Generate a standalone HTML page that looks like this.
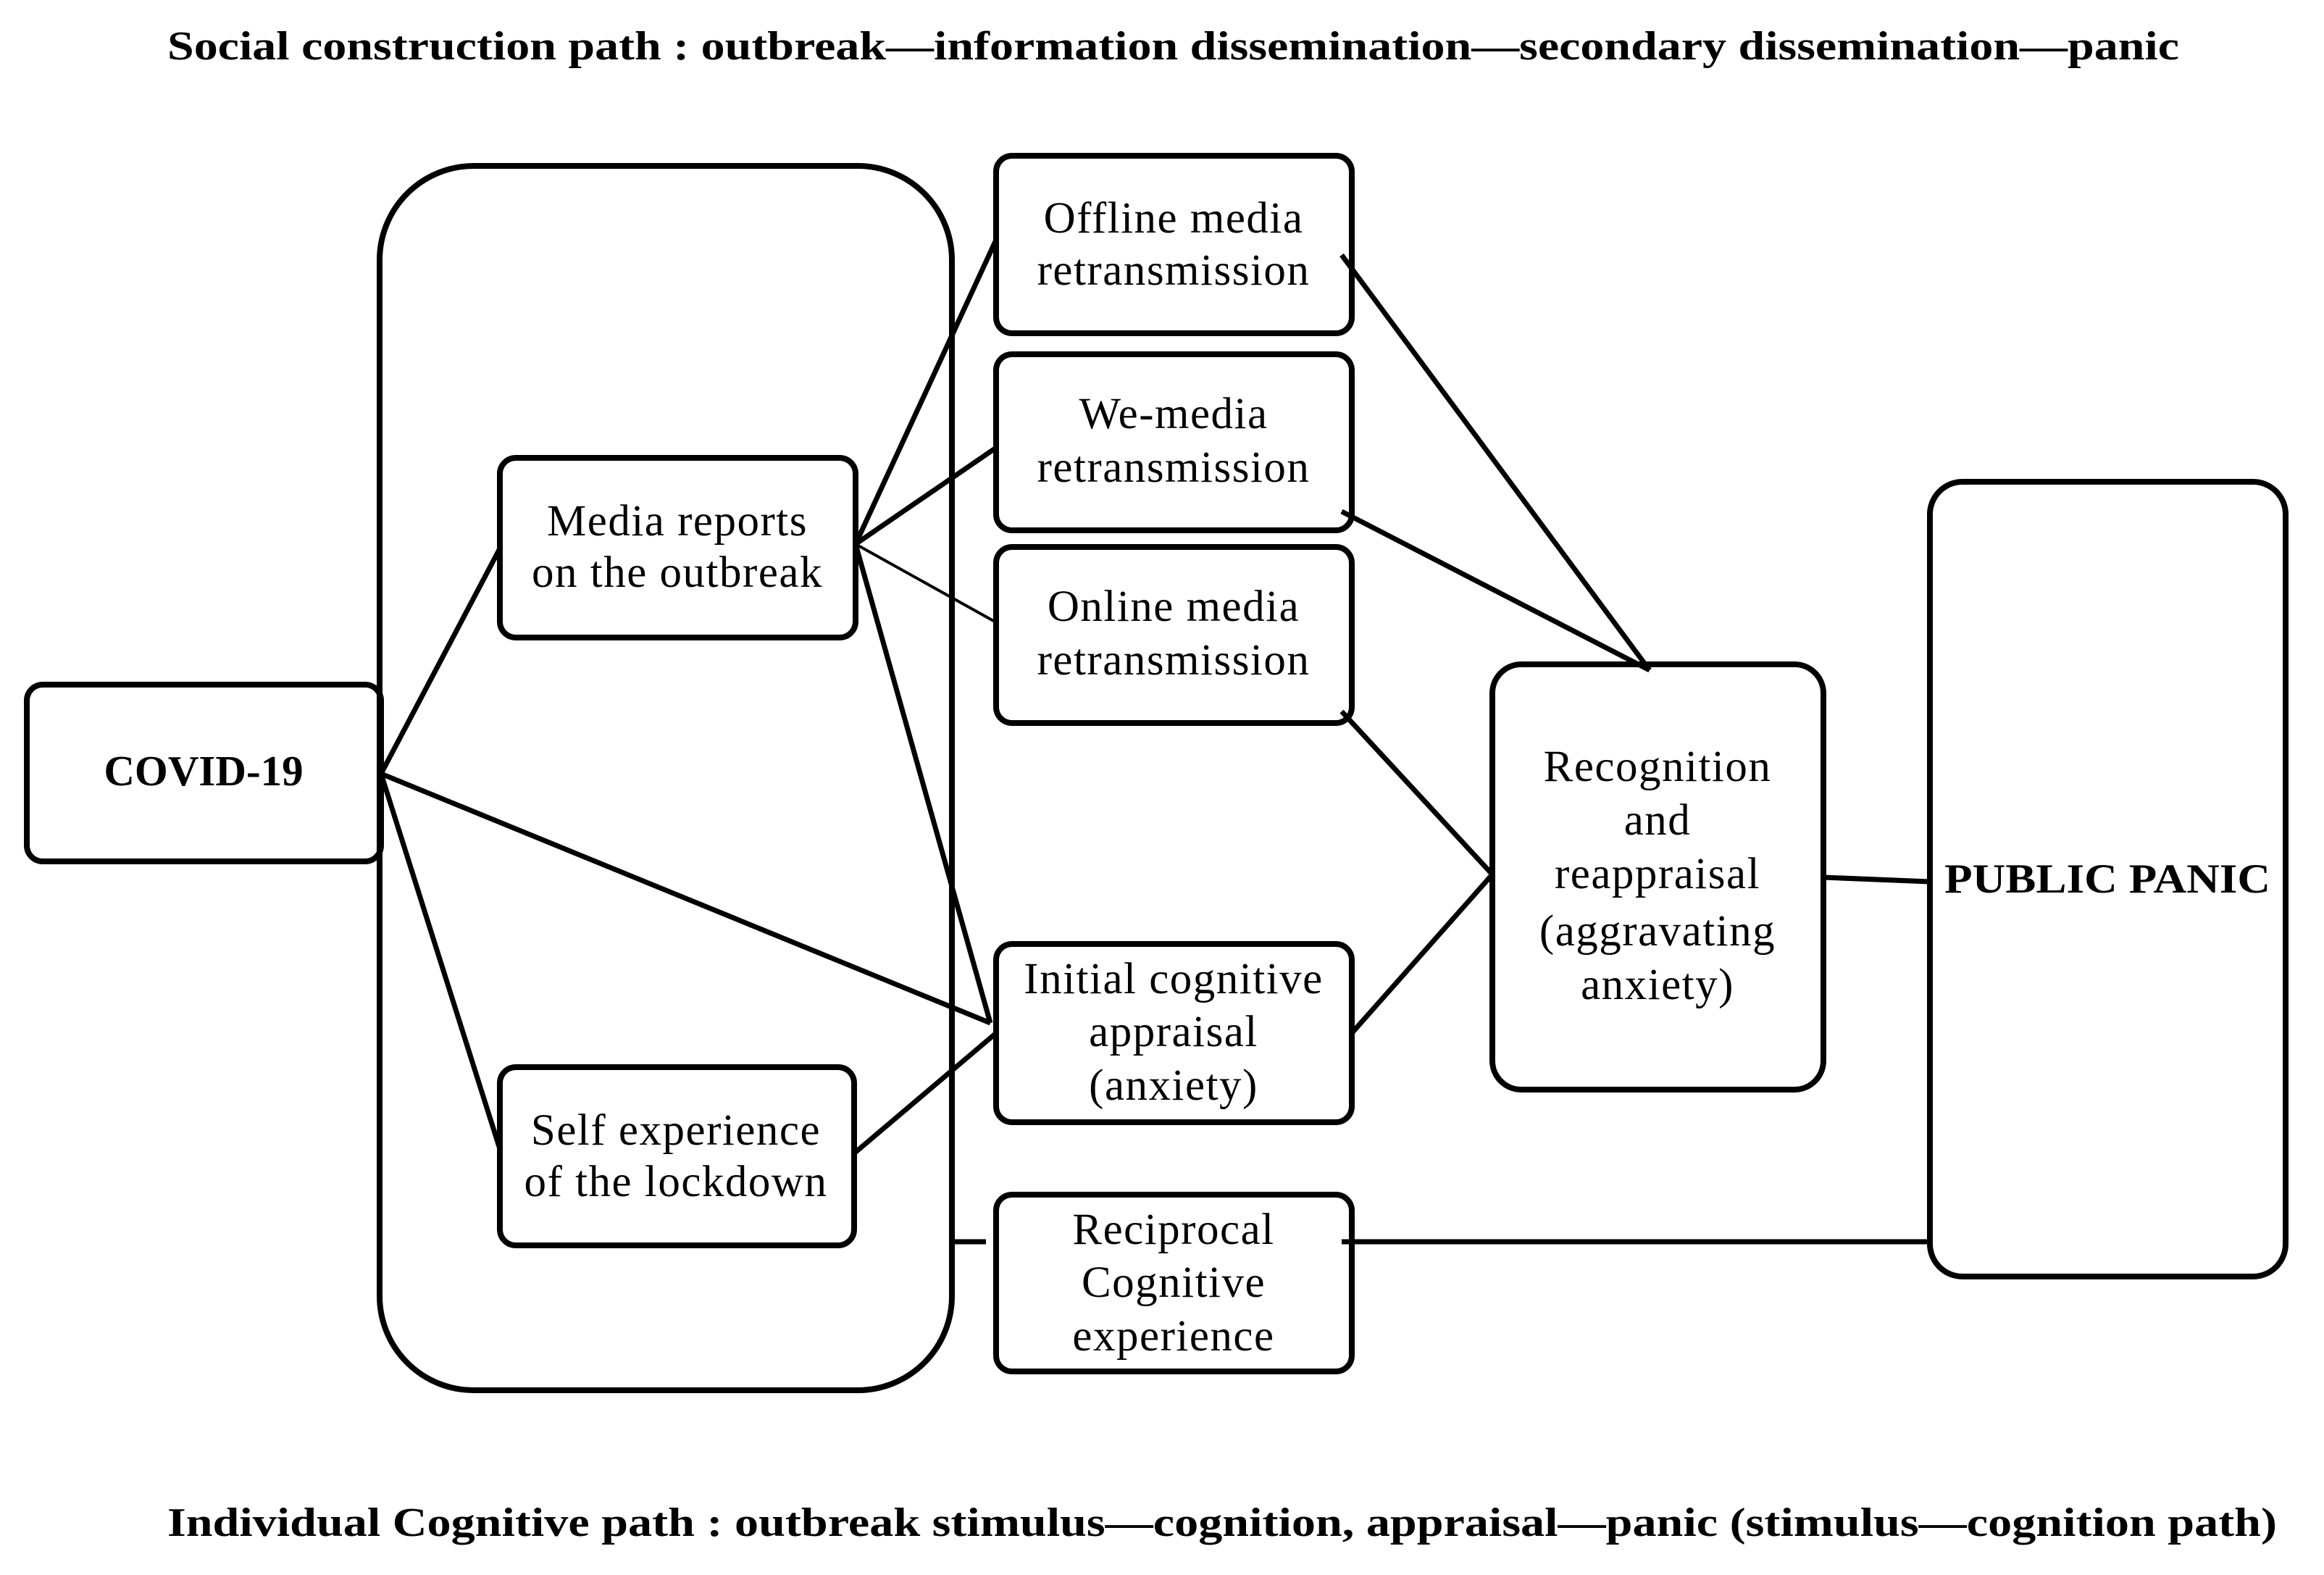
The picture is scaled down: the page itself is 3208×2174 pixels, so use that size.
<!DOCTYPE html>
<html><head><style>html,body{margin:0;padding:0;background:#fff}svg{display:block}</style></head><body>
<svg width="3208" height="2174" viewBox="0 0 3208 2174" xmlns="http://www.w3.org/2000/svg" font-family="'Liberation Serif', serif">
<g fill="none" stroke="#000" stroke-width="8">
<rect x="37" y="945" width="489" height="244" rx="22"/>
<rect x="524" y="229" width="790" height="1690" rx="130"/>
<rect x="690" y="632" width="491" height="248" rx="22"/>
<rect x="690" y="1473" width="489" height="246" rx="22"/>
<rect x="1375" y="215" width="491" height="245" rx="22"/>
<rect x="1375" y="489" width="491" height="243" rx="22"/>
<rect x="1375" y="755" width="491" height="243" rx="22"/>
<rect x="1375" y="1303" width="491" height="246" rx="22"/>
<rect x="1375" y="1649" width="491" height="244" rx="22"/>
<rect x="2060" y="917" width="457" height="587" rx="40"/>
<rect x="2664" y="665" width="491" height="1097" rx="45"/>
</g>
<g stroke="#000" stroke-width="7" stroke-linecap="butt">
<line x1="526" y1="1068" x2="690" y2="757"/>
<line x1="526" y1="1068" x2="690" y2="1586"/>
<line x1="526" y1="1068" x2="1367" y2="1412"/>
<line x1="1181" y1="751" x2="1375" y2="331"/>
<line x1="1181" y1="751" x2="1375" y2="618"/>
<line x1="1181" y1="751" x2="1375" y2="859" stroke-width="4"/>
<line x1="1181" y1="751" x2="1367" y2="1412"/>
<line x1="1179" y1="1592" x2="1375" y2="1426"/>
<line x1="1852" y1="352" x2="2277" y2="925"/>
<line x1="1852" y1="706" x2="2277" y2="925"/>
<line x1="1852" y1="982" x2="2060" y2="1207"/>
<line x1="1866" y1="1426" x2="2060" y2="1207"/>
<line x1="2517" y1="1211" x2="2664" y2="1217"/>
<line x1="1314" y1="1714" x2="1361" y2="1714"/>
<line x1="1852" y1="1714" x2="2664" y2="1714"/>
</g>
<g font-size="61" text-anchor="middle" fill="#000" style="font-stretch:expanded;letter-spacing:1.5px">
<text x="935" y="739">Media reports</text><text x="935" y="810">on the outbreak</text>
<text x="933" y="1580">Self experience</text><text x="933" y="1651">of the lockdown</text>
<text x="1620" y="321">Offline media</text><text x="1620" y="393">retransmission</text>
<text x="1620" y="591">We-media</text><text x="1620" y="665">retransmission</text>
<text x="1620" y="857">Online media</text><text x="1620" y="931">retransmission</text>
<text x="1620" y="1371">Initial cognitive</text><text x="1620" y="1444">appraisal</text><text x="1620" y="1518">(anxiety)</text>
<text x="1620" y="1717">Reciprocal</text><text x="1620" y="1790">Cognitive</text><text x="1620" y="1864">experience</text>
<text x="2288" y="1078">Recognition</text><text x="2288" y="1152">and</text><text x="2288" y="1226">reappraisal</text><text x="2288" y="1305">(aggravating</text><text x="2288" y="1379">anxiety)</text>
</g>
<g font-weight="bold" fill="#000">
<text x="281" y="1084" font-size="59" text-anchor="middle">COVID-19</text>
<text x="2684" y="1232" font-size="57" textLength="450" lengthAdjust="spacingAndGlyphs">PUBLIC PANIC</text>
<text x="231" y="82" font-size="56" textLength="2777" lengthAdjust="spacingAndGlyphs">Social construction path : outbreak—information dissemination—secondary dissemination—panic</text>
<text x="231" y="2120" font-size="56" textLength="2912" lengthAdjust="spacingAndGlyphs">Individual Cognitive path : outbreak stimulus—cognition, appraisal—panic (stimulus—cognition path)</text>
</g>
</svg>
</body></html>
